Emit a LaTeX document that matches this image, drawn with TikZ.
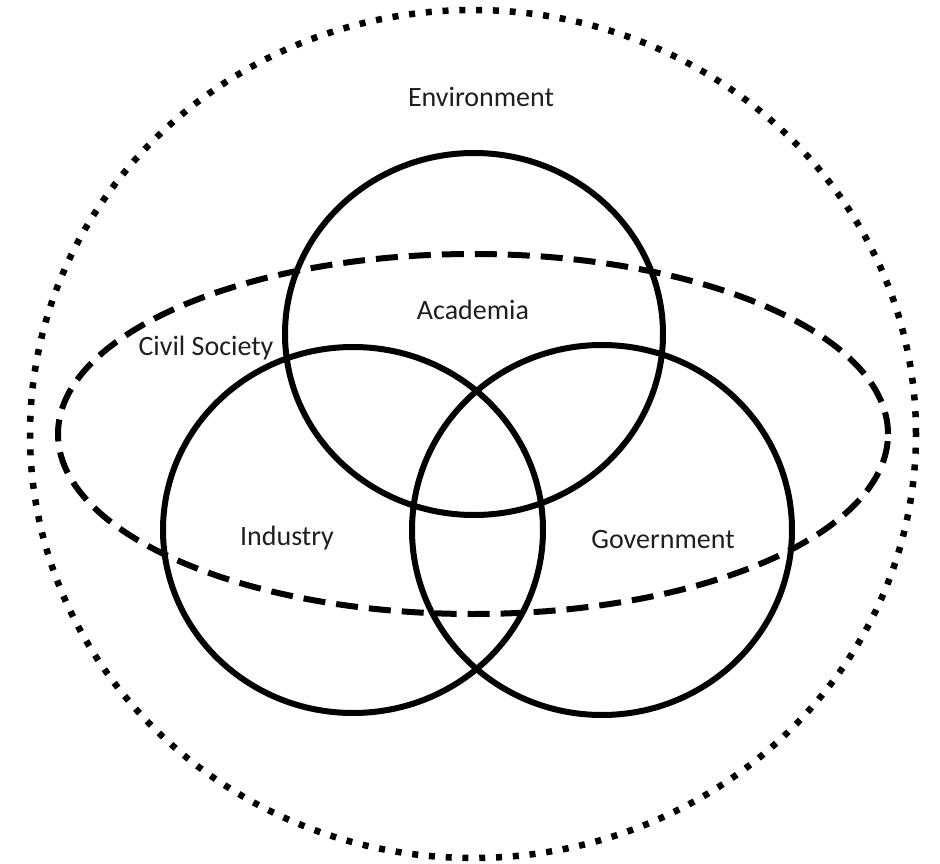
\documentclass[tikz,border=0pt]{standalone}
\usepackage{fontspec}
\setmainfont{Carlito}
\begin{document}
\begin{tikzpicture}[x=1pt,y=-1pt,
  lbl/.style={font=\fontsize{28}{32}\selectfont, text=black!88, inner sep=0pt},
  ring/.style={line width=6pt, black},
  civil/.style={line width=6pt, black, dash pattern=on 22pt off 11pt},
  env/.style={line width=6.5pt, black, dash pattern=on 6pt off 10.8pt}]
\useasboundingbox[fill=white] (0,0) rectangle (940,864);
\coordinate (envc) at (473,434);
\coordinate (civc) at (473,434);
\coordinate (acac) at (474,334);
\coordinate (indc) at (353,530);
\coordinate (govc) at (602,530);
\draw[env] (envc) ellipse [x radius=443pt, y radius=424pt];
\draw[civil] (civc) ellipse [x radius=415pt, y radius=180pt];
\draw[ring] (acac) ellipse [x radius=189pt, y radius=181pt];
\draw[ring] (indc) ellipse [x radius=190pt, y radius=183pt];
\draw[ring] (govc) ellipse [x radius=190pt, y radius=185pt];
\node[lbl] (environment) at (481,97) {Environment};
\node[lbl] (academia) at (473,310) {Academia};
\node[lbl] (civil) at (206,348) {Civil Society};
\node[lbl] (industry) at (287,538) {Industry};
\node[lbl] (government) at (663,540) {Government};
\end{tikzpicture}
\end{document}
